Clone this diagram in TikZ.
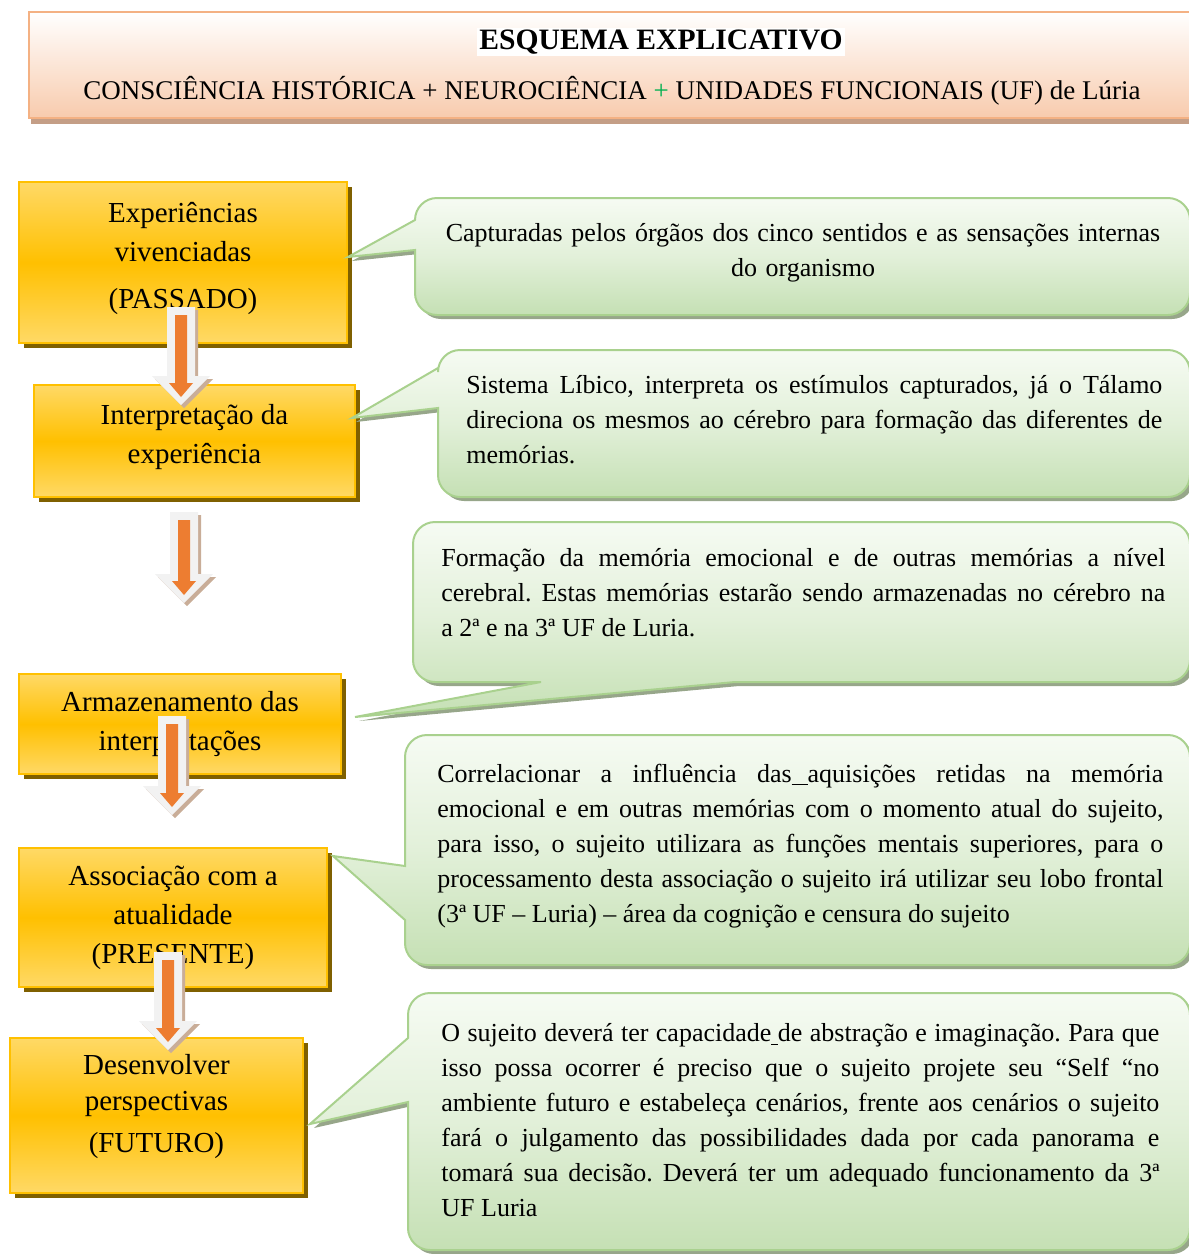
\documentclass[tikz,border=0pt]{standalone}
\usepackage{fontspec}
\setmainfont{Liberation Serif}
\usetikzlibrary{shadows}
\frenchspacing

\definecolor{ouro}{HTML}{FFC000}
\definecolor{ouroclaro}{HTML}{FFD966}
\definecolor{sombraouro}{HTML}{7F6000}
\definecolor{linhaverde}{HTML}{A9D18E}
\definecolor{verdetopo}{HTML}{F6FBF3}
\definecolor{verdemeio}{HTML}{E2F0D9}
\definecolor{verdebase}{HTML}{C5E0B4}
\definecolor{sombraverde}{HTML}{97A68A}
\definecolor{linhatitulo}{HTML}{F4B183}
\definecolor{basetitulo}{HTML}{F8CBAD}
\definecolor{sombratitulo}{HTML}{C49E86}
\definecolor{laranja}{HTML}{ED7D31}
\definecolor{cinzaseta}{HTML}{F2F2F2}
\definecolor{sombraseta}{HTML}{C9AD98}
\definecolor{maisverde}{HTML}{00B050}

% balao com cauda
\newcommand{\balao}[1]{%
  \fill[sombraverde, shift={(4,4)}] #1;
  \shadedraw[fundobalao] #1;}
% seta grossa para baixo: x, topo, ponta
\newcommand{\seta}[3]{%
  \fill[sombraseta, shift={(3,3)}] (#1-14,#2) -- (#1+14,#2) -- (#1+14,#3-29) -- (#1+29,#3-29) -- (#1,#3) -- (#1-29,#3-29) -- (#1-14,#3-29) -- cycle;
  \fill[cinzaseta] (#1-14,#2) -- (#1+14,#2) -- (#1+14,#3-29) -- (#1+29,#3-29) -- (#1,#3) -- (#1-29,#3-29) -- (#1-14,#3-29) -- cycle;
  \fill[laranja] (#1-6,#2+8) -- (#1+6,#2+8) -- (#1+6,#3-22) -- (#1+12,#3-22) -- (#1,#3-8) -- (#1-12,#3-22) -- (#1-6,#3-22) -- cycle;}

\begin{document}
\begin{tikzpicture}[x=0.5pt, y=-0.5pt,
    caixa/.style={draw=ouro, line width=1.2pt, top color=ouroclaro, bottom color=ouroclaro, middle color=ouro,
      drop shadow={shadow xshift=2.5pt, shadow yshift=-2.5pt, fill=sombraouro, opacity=1},
      align=center, inner sep=0pt, font=\fontsize{14.5}{19.5}\selectfont},
    fundobalao/.style={draw=linhaverde, line width=1pt, top color=verdetopo, bottom color=verdebase, middle color=verdemeio},
    texto/.style={inner sep=0pt, anchor=west, align=justify, font=\fontsize{13}{17.5}\selectfont}]
    \useasboundingbox (0,0) rectangle (1189,1254);

    % Titulo
    \node[draw=linhatitulo, line width=1pt, top color=white, bottom color=basetitulo,
      drop shadow={shadow xshift=1pt, shadow yshift=-3pt, fill=sombratitulo, opacity=1},
      minimum width=583pt, minimum height=53pt] (cabecalho) at (612,65) {};
    \node[fill=white, inner sep=1pt, font=\fontsize{14.8}{16}\selectfont\bfseries] (titulo) at (661,42) {ESQUEMA EXPLICATIVO};
    \node[inner sep=0pt, font=\fontsize{13.5}{16}\selectfont] (subtitulo) at (612,91)
      {CONSCIÊNCIA HISTÓRICA + NEUROCIÊNCIA \textcolor{maisverde}{+} UNIDADES FUNCIONAIS (UF) de Lúria};

    % Caixas
    \node[caixa, minimum width=164pt, minimum height=80.5pt, text depth=7pt] (passado) at (183,262.5) {Experiências\\vivenciadas\\[4pt](PASSADO)};
    \node[caixa, minimum width=160.5pt, minimum height=56pt, text depth=7pt] (interp) at (194.5,441) {Interpretação da\\experiência};
    \node[caixa, minimum width=161pt, minimum height=50pt] (armaz) at (180,724) {Armazenamento das\\interpretações};
    \node[caixa, minimum width=154pt, minimum height=69.5pt] (assoc) at (173,917.5) {Associação com a\\atualidade\\(PRESENTE)};
    \node[caixa, minimum width=146.5pt, minimum height=77.5pt, text depth=12pt, font=\fontsize{14.5}{18}\selectfont] (futuro) at (156.5,1115.5) {Desenvolver\\perspectivas\\[3pt](FUTURO)};

    % Baloes
    \balao{(348,257) -- (415,250) [rounded corners=11pt] -- (415,315) -- (1190,315) -- (1190,198) -- (415,198) [sharp corners] -- (415,220) -- cycle}
    \balao{(352,418) -- (438,408) [rounded corners=11pt] -- (438,497) -- (1190,497) -- (1190,350) -- (438,350) [sharp corners] -- (438,368) -- cycle}
    \balao{(355,717) -- (541,682) [rounded corners=11pt] -- (413,682) -- (413,522) -- (1190,522) -- (1190,682) [sharp corners] -- (735,682) -- cycle}
    \balao{(333,856) -- (405,866) [rounded corners=11pt] -- (405,735) -- (1190,735) -- (1190,965) -- (405,965) [sharp corners] -- (405,920) -- cycle}
    \balao{(310,1124) -- (408,1102) [rounded corners=11pt] -- (408,1250) -- (1190,1250) -- (1190,993) -- (408,993) [sharp corners] -- (408,1038) -- cycle}

    \node[texto, anchor=center, align=center, text width=364pt] (captura) at (803,252.5)
      {Capturadas pelos órgãos dos cinco sentidos e as sensações internas\\do organismo};
    \node[texto, text width=348pt] (limbico) at (466,420)
      {Sistema Líbico, interpreta os estímulos capturados, já o Tálamo\linebreak
       direciona os mesmos ao cérebro para formação das diferentes de\linebreak
       memórias.};
    \node[texto, text width=362pt] (memoria) at (441,593)
      {Formação da memória emocional e de outras memórias a nível\linebreak
       cerebral. Estas memórias estarão sendo armazenadas no cérebro na\linebreak
       a 2ª e na 3ª UF de Luria.};
    \node[texto, text width=363pt] (correl) at (437,846)
      {Correlacionar a influência das\rule[-1.5pt]{8pt}{0.6pt}aquisições retidas na memória\linebreak
       emocional e em outras memórias com o momento atual do sujeito,\linebreak
       para isso, o sujeito utilizara as funções mentais superiores, para o\linebreak
       processamento desta associação o sujeito irá utilizar seu lobo frontal\linebreak
       (3ª UF – Luria) – área da cognição e censura do sujeito};
    \node[texto, text width=359pt] (abstr) at (441,1120.5)
      {O sujeito deverá ter capacidade\underline{\ }de abstração e imaginação. Para que\linebreak
       isso possa ocorrer é preciso que o sujeito projete seu “Self “no\linebreak
       ambiente futuro e estabeleça cenários, frente aos cenários o sujeito\linebreak
       fará o julgamento das possibilidades dada por cada panorama e\linebreak
       tomará sua decisão. Deverá ter um adequado funcionamento da 3ª\linebreak
       UF Luria};

    % Setas
    \seta{181}{307}{405}
    \seta{184}{512}{603}
    \seta{172}{716}{815}
    \seta{168}{952}{1050}
\end{tikzpicture}
\end{document}
